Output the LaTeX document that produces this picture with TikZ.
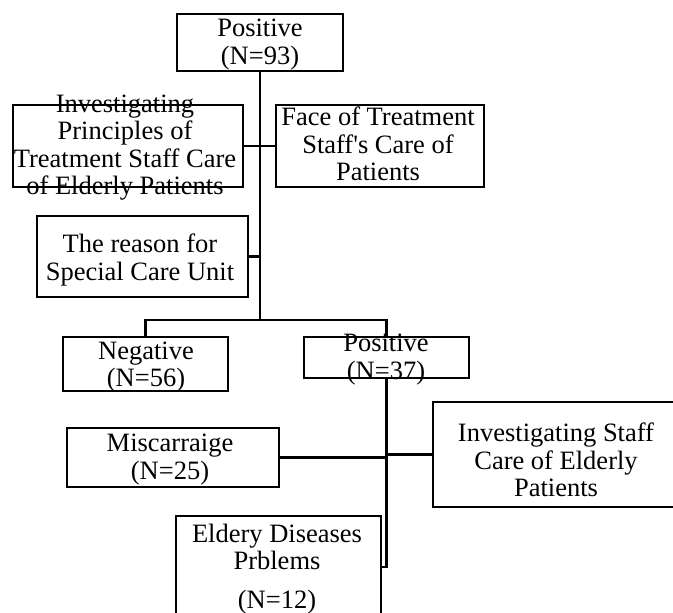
\documentclass[tikz,border=0pt]{standalone}
\usepackage{fontspec}
\setmainfont{Liberation Serif}
\begin{document}
\begin{tikzpicture}[x=1pt,y=-1pt,
  box/.style={draw,line width=2.6pt,inner sep=0pt},
  txt/.style={align=center,inner sep=0pt,font=\fontsize{26.5}{27.5}\selectfont,
    execute at begin node=\strut,execute at end node=\strut},
  link/.style={line width=2.6pt}]
\useasboundingbox (0,0) rectangle (673,613);
\clip (0,0) rectangle (673,613);
% boxes
\node[box,minimum width=166pt,minimum height=57pt] (top) at (260,42.5) {};
\node[box,minimum width=230pt,minimum height=82pt] (invP) at (128,146) {};
\node[box,minimum width=208pt,minimum height=82pt] (face) at (380,146) {};
\node[box,minimum width=211pt,minimum height=81pt] (reason) at (142.5,256.5) {};
\node[box,minimum width=165pt,minimum height=54pt] (neg) at (145.5,364) {};
\node[box,minimum width=165pt,minimum height=41pt] (pos) at (386.5,357.5) {};
\node[box,minimum width=212pt,minimum height=59pt] (misc) at (173,457.5) {};
\node[box,minimum width=246pt,minimum height=105pt] (invS) at (556,454.5) {};
\node[box,minimum width=205pt,minimum height=134pt] (eld) at (278.5,583) {};
% texts
\node[txt] (topT) at (260,46) {Positive\\(N=93)};
\node[txt] (invPT) at (125,149) {Investigating\\Principles of\\Treatment Staff Care\\of Elderly Patients};
\node[txt] (faceT) at (378,148) {Face of Treatment\\Staff\textquotesingle s Care of\\Patients};
\node[txt] (reasonT) at (140,261.5) {The reason for\\Special Care Unit};
\node[txt] (negT) at (146,368.5) {Negative\\(N=56)};
\node[txt] (posT) at (386,361) {Positive\\(N=37)};
\node[txt] (miscT) at (170,461) {Miscarraige\\(N=25)};
\node[txt] (invST) at (556,464) {Investigating Staff\\Care of Elderly\\Patients};
\node[txt] (eldT) at (277,570) {Eldery Diseases\\Prblems\\[11pt](N=12)};
% connectors
\coordinate (j1) at (260,320);
\coordinate (j2) at (381,567);
\draw[link] (top.south) -- (j1);
\draw[link] (neg.north) |- (j1) -| (pos.north);
\draw[link] (invP.east) -- (face.west);
\draw[link] (reason.east) -- (reason.east -| top.south);
\draw[link] (pos.south) |- (j2);
\draw[link] (misc.east) -- (misc.east -| pos.south);
\draw[link] (invS.west) -- (invS.west -| pos.south);
\end{tikzpicture}
\end{document}
